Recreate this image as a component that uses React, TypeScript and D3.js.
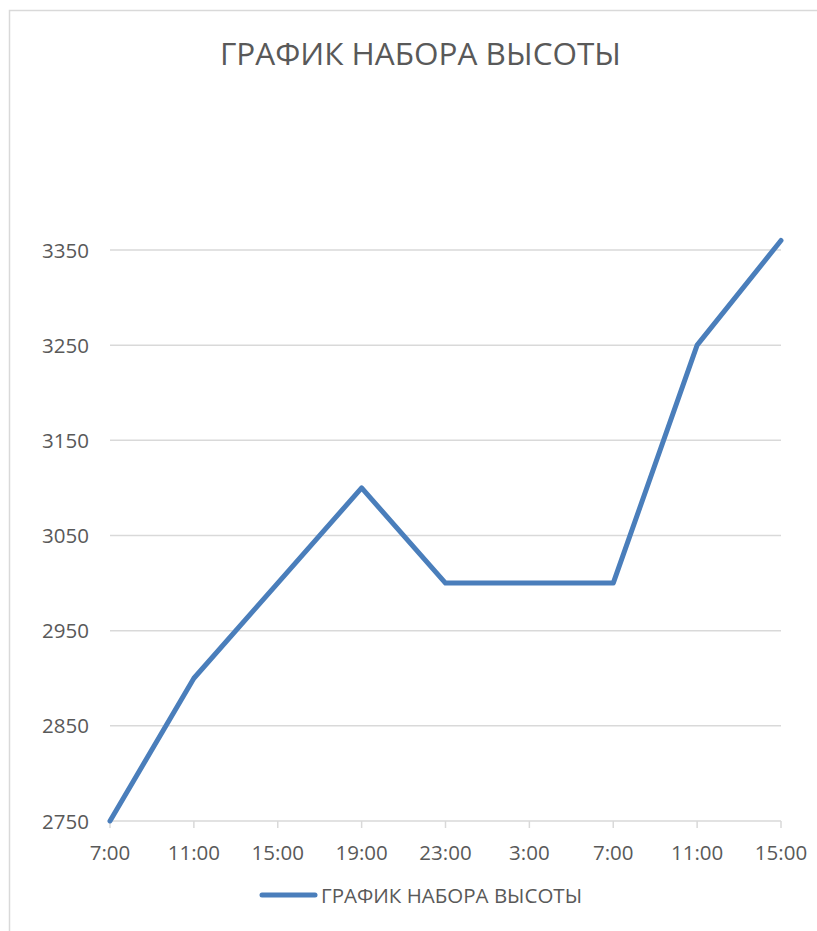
import React from "react";
import * as d3 from "d3";

const title = "ГРАФИК НАБОРА ВЫСОТЫ";
const seriesName = "ГРАФИК НАБОРА ВЫСОТЫ";
const categories = ["7:00", "11:00", "15:00", "19:00", "23:00", "3:00", "7:00", "11:00", "15:00"];
const values = [2750, 2900, 3000, 3100, 3000, 3000, 3000, 3250, 3360];
const yTicks = [2750, 2850, 2950, 3050, 3150, 3250, 3350];

const W = 817;
const H = 931;
const left = 110;
const right = 781;
const y0 = 821;
const y1 = 250;
const font = "'Open Sans', 'Noto Sans', sans-serif";
const textColor = "#595959";
const gridColor = "#d9d9d9";
const lineColor = "#4a7ebb";

export default function App() {
  const idx = categories.map((_, i) => i);
  const x = d3.scalePoint<number>().domain(idx).range([left, right]);
  const y = d3.scaleLinear().domain([2750, 3350]).range([y0, y1]);
  const line = d3
    .line<number>()
    .x((_, i) => x(i) as number)
    .y((d) => y(d));

  return (
    <svg
      width={W}
      height={H}
      style={{ position: "absolute", left: 0, top: 0, display: "block" }}
    >
      <rect x={0} y={0} width={W} height={H} fill="#fff" />
      <rect x={9.5} y={10.5} width={W + 20} height={H + 20} fill="#fff" stroke="#d9d9d9" strokeWidth={1.5} />
      <text
        x={420.5}
        y={65}
        textAnchor="middle"
        fontFamily={font}
        fontSize={31.5}
        fill={textColor}
      >
        {title}
      </text>
      {yTicks.map((t) => (
        <g key={t}>
          {t !== 2750 && (
            <line x1={left} x2={right} y1={y(t)} y2={y(t)} stroke={gridColor} strokeWidth={1.5} />
          )}
          <text
            x={89}
            y={y(t) + 7.5}
            textAnchor="end"
            fontFamily={font}
            fontSize={20.5}
            fill={textColor}
          >
            {t}
          </text>
        </g>
      ))}
      <line x1={left} x2={right} y1={y0} y2={y0} stroke={gridColor} strokeWidth={1.5} />
      {idx.map((i) => (
        <g key={i}>
          <line x1={x(i)} x2={x(i)} y1={y0} y2={y0 + 7} stroke={gridColor} strokeWidth={1.5} />
          <text
            x={x(i)}
            y={860}
            textAnchor="middle"
            fontFamily={font}
            fontSize={20.5}
            fill={textColor}
          >
            {categories[i]}
          </text>
        </g>
      ))}
      <path
        d={line(values) || ""}
        fill="none"
        stroke={lineColor}
        strokeWidth={5}
        strokeLinejoin="round"
        strokeLinecap="round"
      />
      <line x1={262} x2={315} y1={895} y2={895} stroke={lineColor} strokeWidth={5} strokeLinecap="round" />
      <text x={321} y={902.5} fontFamily={font} fontSize={20.5} fill={textColor}>
        {seriesName}
      </text>
    </svg>
  );
}
